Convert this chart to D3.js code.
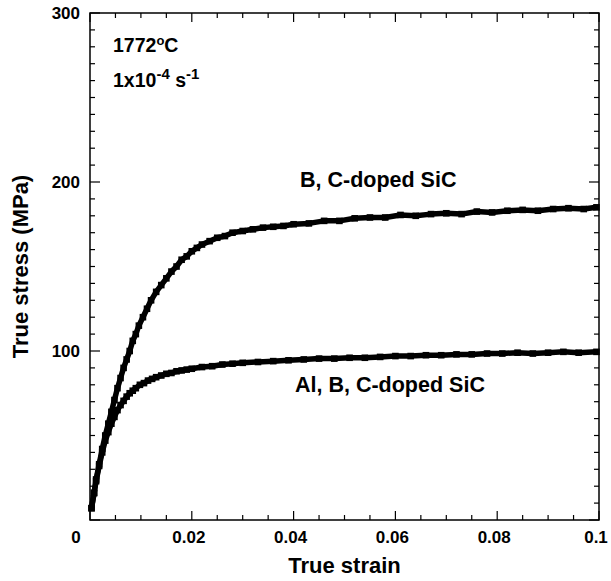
<!DOCTYPE html>
<html>
<head>
<meta charset="utf-8">
<script src="https://cdn.jsdelivr.net/npm/d3@7"></script>
<style>
  html, body { margin: 0; padding: 0; background: #fff; }
  svg { display: block; font-family: "Liberation Sans", Arial, sans-serif; font-weight: bold; }
</style>
</head>
<body>
<div id="chart"></div>
<script>
// B, C-doped SiC
const bcStrain = [0.0003, 0.0008, 0.0012, 0.0018, 0.0024, 0.003, 0.0036, 0.0042, 0.0048, 0.0054,
  0.006, 0.0066, 0.0072, 0.0078, 0.0084, 0.009, 0.0096, 0.0104, 0.0112, 0.012,
  0.013, 0.014, 0.015, 0.016, 0.017, 0.018, 0.019, 0.020, 0.021, 0.022,
  0.0235, 0.025, 0.0265, 0.028, 0.030, 0.032, 0.034, 0.036, 0.038, 0.040,
  0.043, 0.046, 0.049, 0.052, 0.055, 0.058, 0.061, 0.064, 0.067, 0.070,
  0.073, 0.076, 0.079, 0.082, 0.085, 0.088, 0.091, 0.094, 0.097, 0.0995];
const bcStress = [7, 16, 24, 33, 42, 50, 57, 64, 71, 78,
  84, 90, 95, 100, 106, 110, 115, 120, 125, 130,
  135, 139, 143, 147, 150, 154, 156, 159, 161, 163,
  165, 167, 168, 170, 171, 172, 173, 173.5, 174, 175,
  175.5, 177, 177, 178.5, 179, 179, 180.5, 180, 181, 181.5,
  181, 182.5, 182, 183, 183.5, 183, 184, 184.5, 184, 185];

// Al, B, C-doped SiC
const albcStrain = [0.0003, 0.0008, 0.0012, 0.0018, 0.0024, 0.003, 0.0036, 0.0042, 0.0048, 0.0054,
  0.006, 0.0066, 0.0072, 0.0078, 0.0084, 0.009, 0.0098, 0.0106, 0.0114, 0.0122,
  0.013, 0.014, 0.015, 0.016, 0.017, 0.018, 0.019, 0.020, 0.022, 0.024,
  0.026, 0.028, 0.030, 0.033, 0.036, 0.039, 0.042, 0.045, 0.048, 0.051,
  0.054, 0.057, 0.060, 0.063, 0.066, 0.069, 0.072, 0.075, 0.078, 0.081,
  0.084, 0.087, 0.090, 0.093, 0.096, 0.0995];
const albcStress = [7, 16, 23, 32, 40, 47, 52, 57, 61, 65,
  68, 70.5, 73, 75, 76.5, 78, 80, 81, 82.5, 83.5,
  84.5, 85.5, 86.5, 87, 88, 88.5, 89, 89.5, 90.5, 91,
  92, 92.5, 93, 93.5, 94, 94.5, 95, 95.5, 95.5, 96,
  96, 96.5, 97, 97, 97.5, 97.5, 98, 98, 98.5, 98.5,
  99, 98.5, 99, 99.5, 99, 99.5];

const xTicks = [0, 0.02, 0.04, 0.06, 0.08, 0.1];
const xTickLabels = ["0", "0.02", "0.04", "0.06", "0.08", "0.1"];
const yTicks = [100, 200, 300];
const yTickLabels = ["100", "200", "300"];

const width = 611;
const height = 581;
const margin = { top: 13, right: 12, bottom: 61, left: 90 };

const svg = d3.select("#chart")
  .append("svg")
  .attr("width", width)
  .attr("height", height);

const x = d3.scaleLinear().domain([0, 0.1]).range([margin.left, width - margin.right]);
const y = d3.scaleLinear().domain([0, 300]).range([height - margin.bottom, margin.top]);

const x0 = x.range()[0], x1 = x.range()[1];
const y0 = y.range()[0], y1 = y.range()[1];

// ticks (inward, on all four sides)
const xMinor = d3.range(0, 0.1001, 0.005);
const yMinor = d3.range(0, 300.1, 10);
const ticks = svg.append("g").attr("stroke", "#000").attr("stroke-width", 1.2);

xMinor.forEach((v) => {
  const major = xTicks.some((t) => Math.abs(t - v) < 1e-6);
  const len = major ? 9 : 5;
  ticks.append("line").attr("x1", x(v)).attr("x2", x(v)).attr("y1", y0).attr("y2", y0 - len);
  ticks.append("line").attr("x1", x(v)).attr("x2", x(v)).attr("y1", y1).attr("y2", y1 + len);
});
yMinor.forEach((v) => {
  const major = v % 100 === 0;
  const len = major ? 10 : 5;
  ticks.append("line").attr("x1", x0).attr("x2", x0 + len).attr("y1", y(v)).attr("y2", y(v));
  ticks.append("line").attr("x1", x1).attr("x2", x1 - len).attr("y1", y(v)).attr("y2", y(v));
});

svg.append("rect")
  .attr("x", x0).attr("y", y1)
  .attr("width", x1 - x0).attr("height", y0 - y1)
  .attr("fill", "none").attr("stroke", "#000").attr("stroke-width", 1.5);

// tick labels
svg.append("g").selectAll("text")
  .data(xTicks)
  .join("text")
  .attr("x", (d, i) => x(d) + (i === 0 ? -14 : -3))
  .attr("y", y0 + 23)
  .attr("text-anchor", "middle")
  .attr("font-size", 17)
  .text((d, i) => xTickLabels[i]);

svg.append("g").selectAll("text")
  .data(yTicks)
  .join("text")
  .attr("x", x0 - 10)
  .attr("y", (d) => y(d) + 6)
  .attr("text-anchor", "end")
  .attr("font-size", 17)
  .text((d, i) => yTickLabels[i]);

// axis titles
svg.append("text")
  .attr("x", (x0 + x1) / 2)
  .attr("y", 573)
  .attr("text-anchor", "middle")
  .attr("font-size", 22)
  .text("True strain");

svg.append("text")
  .attr("transform", `translate(28,${(y0 + y1) / 2}) rotate(-90)`)
  .attr("text-anchor", "middle")
  .attr("font-size", 22)
  .text("True stress (MPa)");

// data curves
const line = d3.line().x((d) => x(d[0])).y((d) => y(d[1]));
const series = [
  d3.zip(bcStrain, bcStress),
  d3.zip(albcStrain, albcStress)
];
series.forEach((pts) => {
  svg.append("path")
    .attr("d", line(pts))
    .attr("fill", "none")
    .attr("stroke", "#000")
    .attr("stroke-width", 5.5)
    .attr("stroke-linejoin", "round");
  svg.append("g").selectAll("rect")
    .data(pts)
    .join("rect")
    .attr("x", (d) => x(d[0]) - 3.3)
    .attr("y", (d) => y(d[1]) - 3.3)
    .attr("width", 6.6)
    .attr("height", 6.6)
    .attr("fill", "#000");
});

// annotations
const t1 = svg.append("text").attr("x", 113).attr("y", 52).attr("font-size", 19.5);
t1.append("tspan").text("1772");
t1.append("tspan").attr("dy", -7).attr("font-size", 13).text("o");
t1.append("tspan").attr("dy", 7).text("C");

const t2 = svg.append("text").attr("x", 113).attr("y", 87).attr("font-size", 19.5);
t2.append("tspan").text("1x10");
t2.append("tspan").attr("dy", -8).attr("font-size", 15).text("-4");
t2.append("tspan").attr("dy", 8).text(" s");
t2.append("tspan").attr("dy", -8).attr("font-size", 15).text("-1");

svg.append("text")
  .attr("x", 300).attr("y", 187)
  .attr("font-size", 21.5)
  .text("B, C-doped SiC");

svg.append("text")
  .attr("x", 295).attr("y", 392)
  .attr("font-size", 21.5)
  .text("Al, B, C-doped SiC");
</script>
</body>
</html>
